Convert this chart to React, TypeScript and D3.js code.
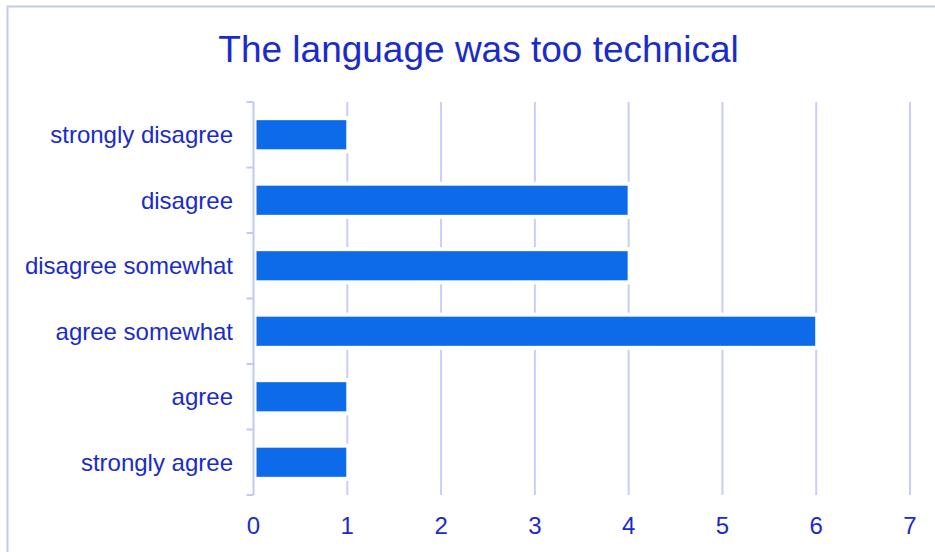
import React from "react";
import * as d3 from "d3";

const title = "The language was too technical";
const categories = [
  "strongly disagree",
  "disagree",
  "disagree somewhat",
  "agree somewhat",
  "agree",
  "strongly agree",
];
const counts = [1, 4, 4, 6, 1, 1];
const xTicks = [0, 1, 2, 3, 4, 5, 6, 7];

const W = 935;
const H = 552;
const plot = { left: 253.5, right: 910, top: 102, bottom: 495 };

const TEXT = "#1a2bcc";
const BAR = "#0d6bea";
const GRID = "#c9cdf7";
const AXIS = "#c3c8f5";

export default function App() {
  const x = d3.scaleLinear().domain([0, 7]).range([plot.left, plot.right]);
  const y = d3
    .scaleBand<string>()
    .domain(categories)
    .range([plot.top, plot.bottom])
    .paddingInner(0.555)
    .paddingOuter(0.2775);
  const band = y.step();
  const barH = y.bandwidth();
  const font = "'Liberation Sans', Arial, sans-serif";

  // Gridline segments, interrupted wherever a bar reaches the line
  const gridSegs: { v: number; y1: number; y2: number }[] = [];
  xTicks.slice(1).forEach((v) => {
    let start = plot.top;
    categories.forEach((c, i) => {
      if (counts[i] >= v) {
        const by = y(c)!;
        gridSegs.push({ v, y1: start, y2: by - 4 });
        start = by + barH + 4;
      }
    });
    gridSegs.push({ v, y1: start, y2: plot.bottom });
  });

  return (
    <svg
      width={W}
      height={H}
      style={{ position: "absolute", left: 0, top: 0, background: "#fff" }}
      fontFamily={font}
    >
      <rect x={7.5} y={6.5} width={W + 20} height={H + 20} fill="#fff" stroke={AXIS} strokeWidth={2} />
      <text x={478.5} y={62} textAnchor="middle" fontSize={37} fill={TEXT}>
        {title}
      </text>

      {gridSegs.map((s, i) => (
        <line key={i} x1={x(s.v)} x2={x(s.v)} y1={s.y1} y2={s.y2} stroke={GRID} strokeWidth={2} />
      ))}

      <line x1={plot.left} x2={plot.left} y1={plot.top} y2={plot.bottom} stroke={AXIS} strokeWidth={2} />
      {d3.range(categories.length + 1).map((i) => (
        <line
          key={i}
          x1={plot.left - 7}
          x2={plot.left}
          y1={plot.top + i * band}
          y2={plot.top + i * band}
          stroke={AXIS}
          strokeWidth={2}
        />
      ))}

      {categories.map((c, i) => (
        <g key={c}>
          <rect x={x(0) + 3} y={y(c)!} width={x(counts[i]) - x(0) - 4} height={barH} fill={BAR} />
          <text
            x={233}
            y={y(c)! + barH / 2}
            dy="0.35em"
            textAnchor="end"
            fontSize={24}
            fill={TEXT}
          >
            {c}
          </text>
        </g>
      ))}

      {xTicks.map((v) => (
        <text key={v} x={x(v)} y={525.5} dy="0.35em" textAnchor="middle" fontSize={24} fill={TEXT}>
          {v}
        </text>
      ))}
    </svg>
  );
}
